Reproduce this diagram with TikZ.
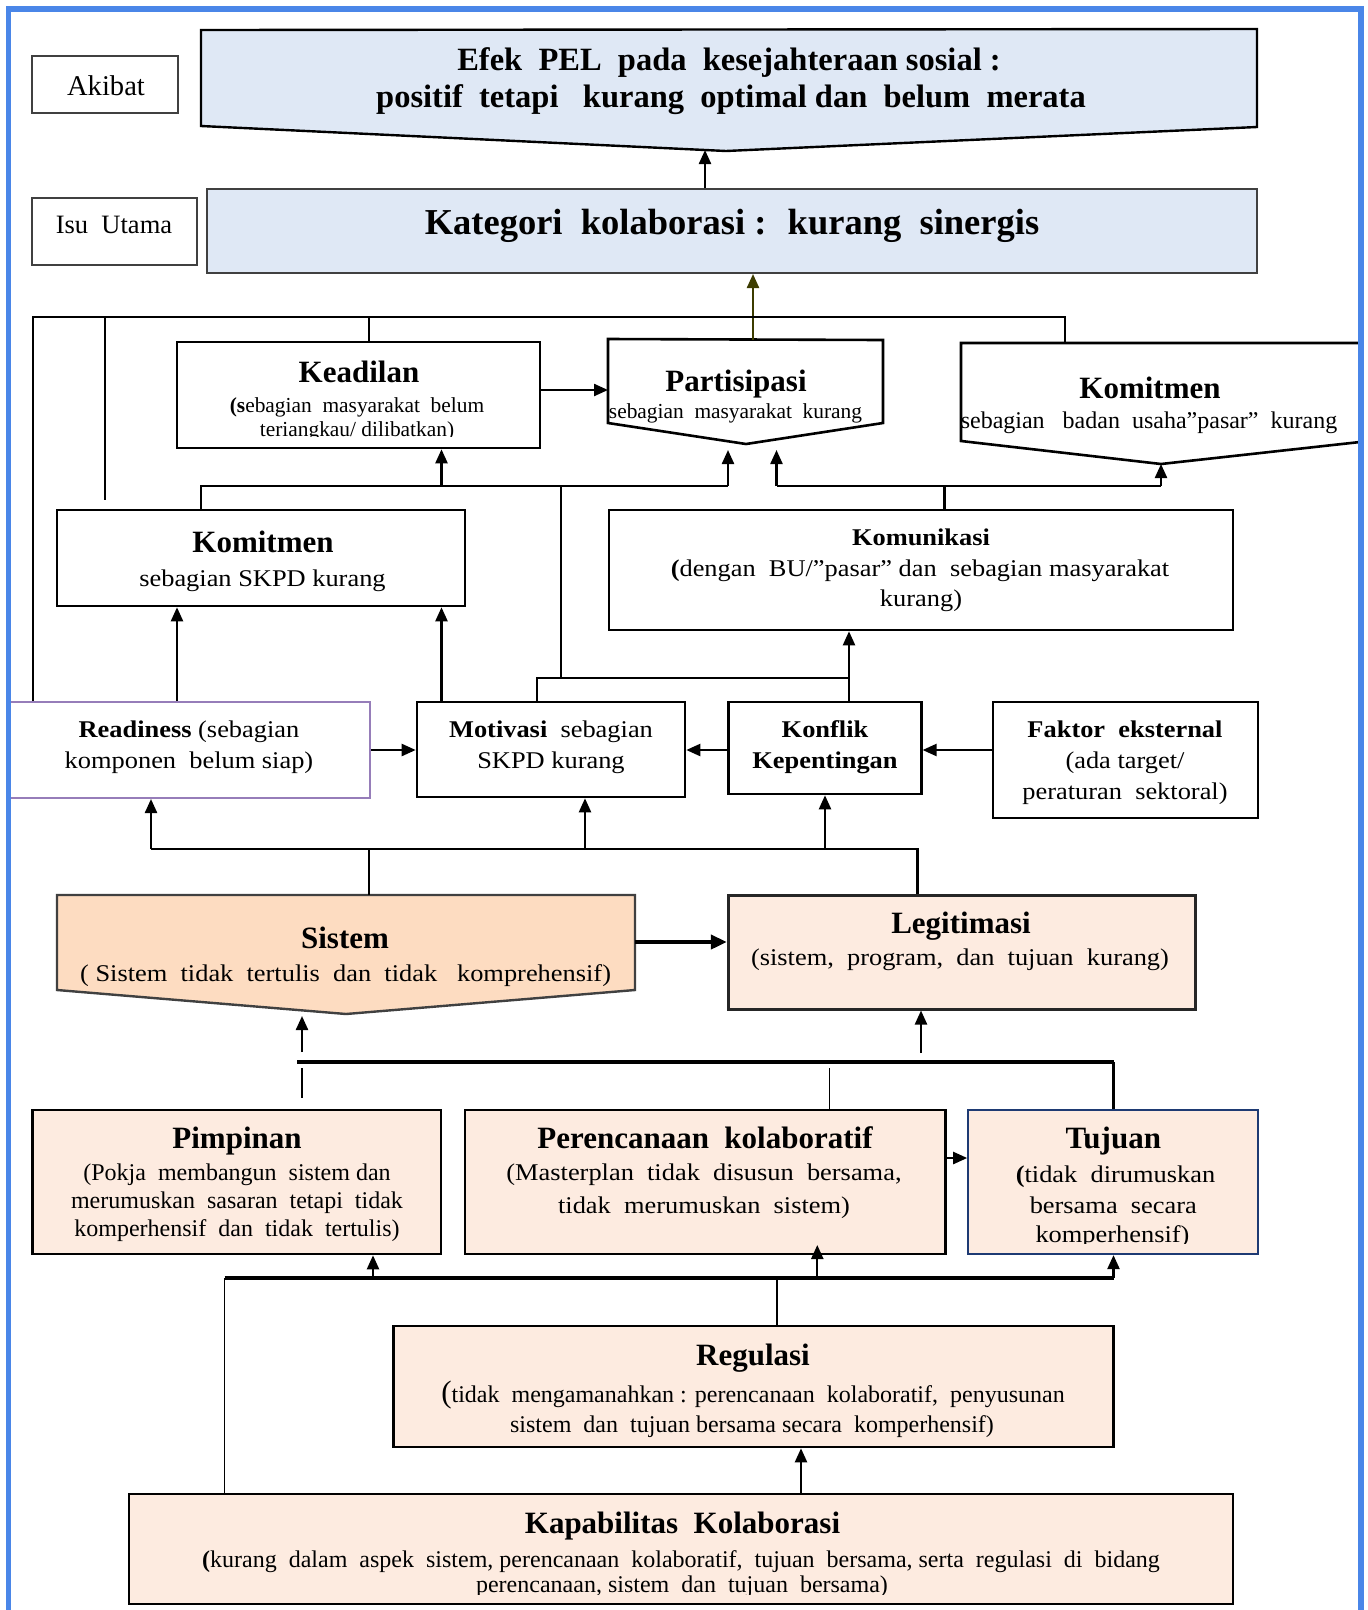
\documentclass[tikz,border=0pt]{standalone}
\usepackage{fontspec}
\setmainfont{Liberation Serif}
\newfontfamily\widefont{Liberation Serif}[FakeStretch=1.1]
\usetikzlibrary{arrows.meta}
\definecolor{lblue}{RGB}{223,232,245}
\definecolor{peach}{RGB}{253,220,193}
\definecolor{lpeach}{RGB}{253,235,224}
\definecolor{olivedk}{RGB}{60,60,0}
\definecolor{purp}{RGB}{150,125,185}
\definecolor{dblue}{RGB}{30,58,115}
\definecolor{frameblue}{RGB}{74,134,232}
\definecolor{gr}{RGB}{64,64,64}
\newcommand\fH{\fontsize{31}{34}\selectfont\bfseries}
\newcommand\fW{\widefont\fontsize{24}{28}\selectfont}
\newcommand\fWb{\widefont\fontsize{24}{28}\selectfont\bfseries}
\newcommand\fN{\fontsize{24}{28}\selectfont}
\newcommand\fS{\fontsize{21.4}{24}\selectfont}
\tikzset{
  box/.style={draw=black, line width=2.6pt, inner sep=0pt},
  ln/.style={line width=2.3pt},
  thin/.style={line width=1.6pt},
  thick/.style={line width=4pt},
  arr/.style={line width=2.3pt, -{Triangle[width=12pt,length=14pt]}},
  tx/.style={inner sep=0pt, anchor=base},
}
\begin{document}
\begin{tikzpicture}[x=1pt,y=-1pt]
\useasboundingbox (0,0) rectangle (1368,1610);
\fill[white] (0,0) rectangle (1368,1610);

% ---------- top row ----------
\node[box, draw=gr, minimum width=146pt, minimum height=57pt] (akibat) at (105,84.5) {};
\draw[line width=2.4pt, fill=lblue] (201,30) -- (1257,29) -- (1257,127) -- (726,151) -- (201,126) -- cycle;
\coordinate (efektip) at (705,150);
\node[tx, font=\fontsize{28.6}{30}\selectfont] (akt) at (106,95) {Akibat};
\node[tx, font=\fontsize{32.5}{36}\selectfont\bfseries] (ef1) at (729,70) {Efek~ PEL~ pada~ kesejahteraan sosial :};
\node[tx, font=\fontsize{32.5}{36}\selectfont\bfseries] (ef2) at (731,107) {positif~ tetapi~~ kurang~ optimal dan~ belum~ merata};

\node[box, draw=gr, minimum width=165pt, minimum height=67pt] (isu) at (114.5,231.5) {};
\node[box, draw=gr, line width=2pt, fill=lblue, minimum width=1050pt, minimum height=84pt] (kat) at (732,231) {};
\node[tx, font=\fontsize{26.5}{30}\selectfont] (isut) at (114,233) {Isu~ Utama};
\node[tx, font=\fontsize{36.5}{40}\selectfont\bfseries] (katt) at (732,234) {Kategori~ kolaborasi :~ kurang~ sinergis};

\draw[arr] (705,0 |- kat.north) -- (efektip);

% ---------- second row ----------
\node[box, minimum width=363pt, minimum height=106pt] (kead) at (358.5,395) {};
\draw[box] (608,339) -- (883,340) -- (883,423) -- (746,444) -- (608,423) -- cycle;
\coordinate (parttop) at (753,340);
\coordinate (partleft) at (608,390);
\draw[box] (961,343) -- (1360,343) -- (1360,442) -- (1161,464) -- (961,441) -- cycle;
\coordinate (komrtop) at (1065,343);
\coordinate (komrtip) at (1161,464);

\node[tx, font=\fH] (kd1) at (359,382) {Keadilan};
\node[tx, font=\fS] (kd2) at (357,412) {\textbf{(s}ebagian~ masyarakat~ belum};
\begin{scope}
\clip (180,300) rectangle (537,436);
\node[tx, font=\fS] (kd3) at (357,436) {teriangkau/ dilibatkan)};
\end{scope}
\node[tx, font=\fH] (pt1) at (736,391) {Partisipasi};
\node[tx, font=\fS] (pt2) at (735.5,418) {sebagian~ masyarakat~ kurang};
\node[tx, font=\fH] (kr1) at (1150,398) {Komitmen};
\node[tx, font=\fN] (kr2) at (1149,428) {sebagian~~ badan~ usaha”pasar”~ kurang};

\draw[line width=2.3pt, draw=olivedk, -{Triangle[width=12pt,length=14pt]}] (parttop) -- (753,0 |- kat.south);
\draw[arr] (kead.east |- partleft) -- (partleft);

% ---------- third row ----------
\node[box, minimum width=408pt, minimum height=96pt] (kskpd) at (261,558) {};
\node[box, minimum width=624pt, minimum height=120pt] (komu) at (921,570) {};
\node[tx, font=\fH] (ks1) at (263,552) {Komitmen};
\node[tx, font=\fW] (ks2) at (262.5,586) {sebagian SKPD kurang};
\node[tx, font=\fWb] (km1) at (921,545) {Komunikasi};
\node[tx, font=\fW] (km2) at (920,576) {\textbf{(}dengan~ BU/”pasar” dan~ sebagian masyarakat};
\node[tx, font=\fW] (km3) at (921,606) {kurang)};

\draw[ln] (201,0 |- kskpd.north) -- (201,486) -- (728,486);
\draw[arr] (728,486) -- (728,450);
\draw[arr] (441.5,486) -- (441.5,0 |- kead.south);
\draw[ln] (561,486) -- (561,678);
\draw[ln] (944.6,0 |- komu.north) -- (944.6,486);
\draw[ln] (776.5,486) -- (1161,486);
\draw[arr] (776.5,486) -- (776.5,450);
\draw[arr] (1161,486) -- (komrtip);

% ---------- fourth row ----------
\node[box, draw=purp, line width=2pt, minimum width=361pt, minimum height=96pt] (ready) at (189.5,750) {};
\node[box, minimum width=268pt, minimum height=95pt] (moti) at (551,749.5) {};
\node[box, minimum width=193pt, minimum height=92pt] (konf) at (824.8,748) {};
\node[box, minimum width=265pt, minimum height=116pt] (fakt) at (1125.5,760) {};
\node[tx, font=\fW] (rd1) at (189,737) {\textbf{Readiness} (sebagian};
\node[tx, font=\fW] (rd2) at (189,768) {komponen~ belum siap)};
\node[tx, font=\fW] (mt1) at (551,737) {\textbf{Motivasi}~ sebagian};
\node[tx, font=\fW] (mt2) at (551,768) {SKPD kurang};
\node[tx, font=\fWb] (kf1) at (825,737) {Konflik};
\node[tx, font=\fWb] (kf2) at (825,768) {Kepentingan};
\node[tx, font=\fWb] (fk1) at (1125,737) {Faktor~ eksternal};
\node[tx, font=\fW] (fk2) at (1125,768) {(ada target/};
\node[tx, font=\fW] (fk3) at (1125,799) {peraturan~ sektoral)};

% top frame of lines
\draw[ln] (33,0 |- ready.north) -- (33,317) -- (1065,317) -- (komrtop);
\draw[ln] (105,317) -- (105,500);
\draw[ln] (369,317) -- (369,0 |- kead.north);

\draw[arr] (177,0 |- ready.north) -- (177,0 |- kskpd.south);
\draw[arr] (441.5,0 |- moti.north) -- (441.5,0 |- kskpd.south);
\draw[ln] (537,0 |- moti.north) -- (537,678) -- (849,678);
\draw[arr] (849,0 |- konf.north) -- (849,0 |- komu.south);
\draw[arr] (ready.east |- 0,750) -- (moti.west |- 0,750);
\draw[arr] (konf.west |- 0,750) -- (moti.east |- 0,750);
\draw[arr] (fakt.west |- 0,750) -- (konf.east |- 0,750);

% ---------- fifth row ----------
\draw[line width=2.4pt, draw=gr, fill=peach] (57,895) -- (635,895) -- (635,990) -- (346,1014) -- (57,990) -- cycle;
\coordinate (sisttop) at (369,895);
\coordinate (sisteast) at (635,942);
\coordinate (sisttip) at (302,1016);
\node[box, draw=black!85, line width=3pt, fill=lpeach, minimum width=467.3pt, minimum height=114pt] (legi) at (962,952) {};
\node[tx, font=\fH] (ss1) at (345,948) {Sistem};
\node[tx, font=\fW] (ss2) at (345.6,981) {( Sistem~ tidak~ tertulis~ dan~ tidak~~ komprehensif)};
\node[tx, font=\fH] (lg1) at (961,933) {Legitimasi};
\node[tx, font=\fW] (lg2) at (960,965) {(sistem,~ program,~ dan~ tujuan~ kurang)};

\draw[ln] (sisttop) -- (369,849);
\draw[ln] (151,849) -- (917.4,849) -- (917.4,0 |- legi.north);
\draw[arr] (151,849) -- (151,0 |- ready.south);
\draw[arr] (585,849) -- (585,0 |- moti.south);
\draw[arr] (825,849) -- (825,0 |- konf.south);
\draw[line width=4pt, -{Triangle[width=14pt,length=16pt]}] (sisteast) -- (legi.west |- sisteast);

% ---------- sixth row ----------
\node[box, fill=lpeach, minimum width=408.4pt, minimum height=144pt] (pimp) at (236.8,1182) {};
\node[box, fill=lpeach, minimum width=480.5pt, minimum height=144pt] (pere) at (705.25,1182) {};
\node[box, draw=dblue, line width=2.2pt, fill=lpeach, minimum width=289.7pt, minimum height=144pt] (tuju) at (1113.15,1182) {};
\node[tx, font=\fH] (pm1) at (237,1148) {Pimpinan};
\node[tx, font=\fN] (pm2) at (237,1180) {(Pokja~ membangun~ sistem dan};
\node[tx, font=\fN] (pm3) at (237,1208) {merumuskan~ sasaran~ tetapi~ tidak};
\node[tx, font=\fN] (pm4) at (237,1236) {komperhensif~ dan~ tidak~ tertulis)};
\node[tx, font=\fH] (pr1) at (705,1148) {Perencanaan~ kolaboratif};
\node[tx, font=\fW] (pr2) at (704,1180) {(Masterplan~ tidak~ disusun~ bersama,};
\node[tx, font=\fW] (pr3) at (704,1213) {tidak~ merumuskan~ sistem)};
\node[tx, font=\fH] (tj1) at (1113.3,1148) {Tujuan};
\node[tx, font=\fW] (tj2) at (1115.5,1182) {\textbf{(}tidak~ dirumuskan};
\node[tx, font=\fW] (tj3) at (1113.3,1213) {bersama~ secara};
\begin{scope}
\clip (975,1190) rectangle (1254,1243);
\node[tx, font=\fW] (tj4) at (1112.5,1242) {komperhensif)};
\end{scope}

\draw[arr] (302,1052) -- (sisttip);
\draw[thick] (297,1062) -- (1113.5,1062);
\draw[ln] (1113.5,1062) -- (1113.5,0 |- tuju.north);
\draw[ln] (302,1068) -- (302,1098);
\draw[thin] (829.6,1068) -- (829.6,0 |- pere.north);
\draw[arr] (921,1053) -- (921,0 |- legi.south);
\draw[arr] (pere.east |- 0,1158) -- (tuju.west |- 0,1158);

% ---------- seventh row ----------
\node[box, fill=lpeach, minimum width=720pt, minimum height=121pt] (regu) at (753.5,1386.5) {};
\node[box, fill=lpeach, minimum width=1104pt, minimum height=110pt] (kapa) at (681,1549) {};
\node[tx, font=\fH] (rg1) at (753,1365) {Regulasi};
\node[tx, font=\fN] (rg2) at (753,1402) {{\fontsize{31}{31}\selectfont(}tidak~ mengamanahkan : perencanaan~ kolaboratif,~ penyusunan};
\node[tx, font=\fN] (rg3) at (752,1432) {sistem~ dan~ tujuan bersama secara~ komperhensif)};
\node[tx, font=\fH] (kp1) at (682.5,1533) {Kapabilitas~ Kolaborasi};
\node[tx, font=\fN] (kp2) at (681,1567) {\textbf{(}kurang~ dalam~ aspek~ sistem, perencanaan~ kolaboratif,~ tujuan~ bersama, serta~ regulasi~ di~ bidang};
\begin{scope}
\clip (135,1572) rectangle (1228,1594);
\node[tx, font=\fN] (kp3) at (682,1592) {perencanaan, sistem~ dan~ tujuan~ bersama)};
\end{scope}

\draw[thick] (224.5,1278) -- (1113.5,1278);
\draw[arr] (1113.5,1278) -- (1113.5,0 |- tuju.south);
\draw[arr] (373,1278) -- (373,0 |- pimp.south);
\draw[arr] (817.3,1278) -- (817.3,1245);
\draw[thin] (224.5,1278) -- (224.5,0 |- kapa.north);
\draw[line width=2pt] (777.4,1278) -- (777.4,0 |- regu.north);
\draw[arr] (801,0 |- kapa.north) -- (801,0 |- regu.south);

% ---------- frame ----------
\draw[frameblue, line width=5.5pt] (8.5,1612) -- (8.5,9) -- (1361,9) -- (1361,1612);
\end{tikzpicture}
\end{document}
